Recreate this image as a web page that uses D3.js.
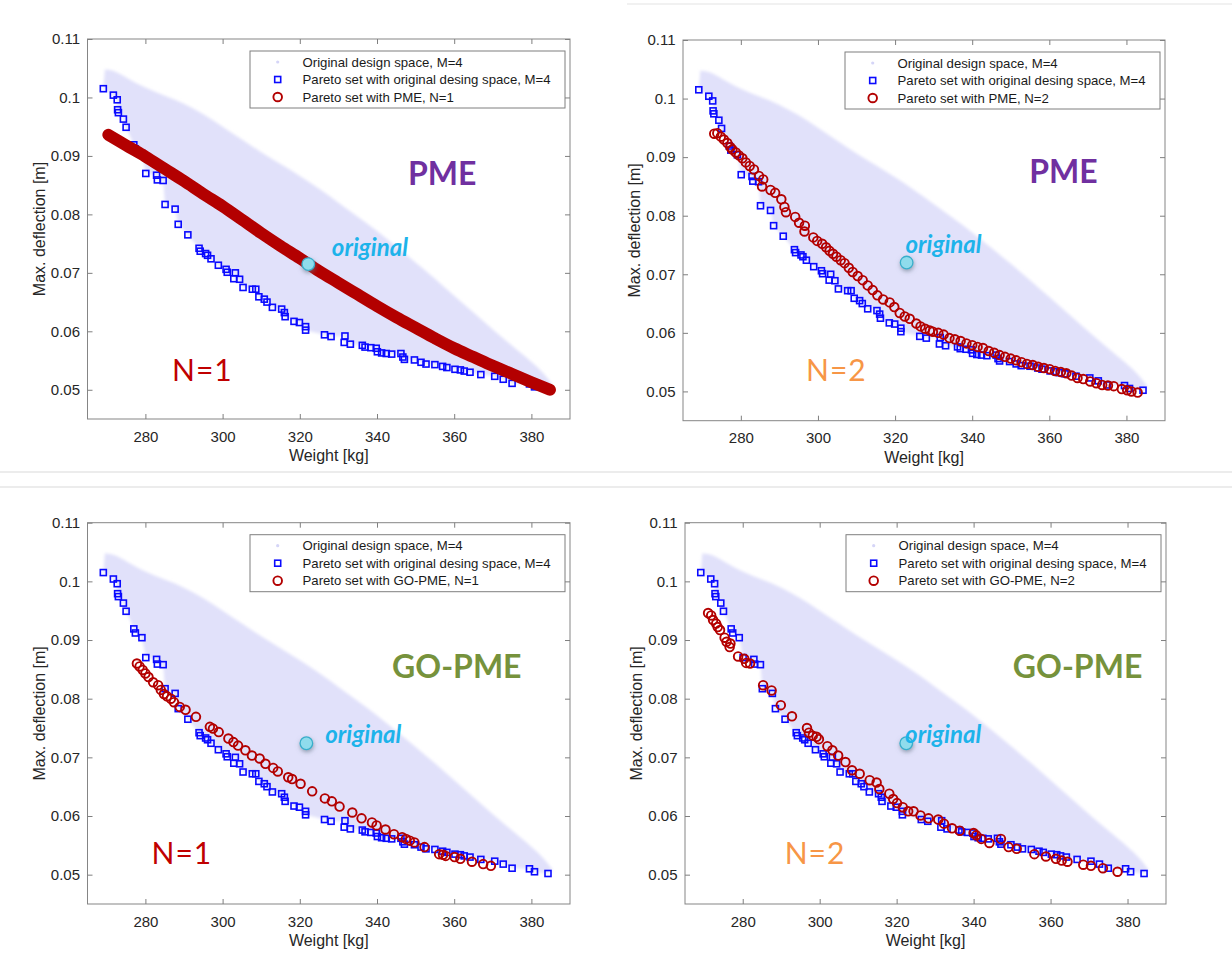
<!DOCTYPE html>
<html>
<head>
<meta charset="utf-8">
<title>Pareto sets: PME and GO-PME</title>
<script src="https://d3js.org/d3.v7.min.js"></script>
<style>
    body { margin: 0; background: #fff; }
    .axis text { font-family: "Liberation Sans", Arial, sans-serif; font-size: 15px; fill: #262626; }
    .axis line { stroke: #7f7f7f; }
    .axis path { display: none; }
    .axis-title { font-family: "Liberation Sans", Arial, sans-serif; font-size: 16px; fill: #262626; }
    .legend text { font-family: "Liberation Sans", Arial, sans-serif; font-size: 13.2px; fill: #1a1a1a; }
    .big { font-family: Lato, "Open Sans", sans-serif; }
</style>
</head>
<body>
<script>
    // ---- data ----
    var xTicks = [280, 300, 320, 340, 360, 380];
    var yTicks = [0.05, 0.06, 0.07, 0.08, 0.09, 0.1, 0.11];

    // upper edge of the original design space cloud (the lower edge is the Pareto set)
    var cloudUpper = [[269.5, 0.1048], [272, 0.1046], [275, 0.1034], [280, 0.1016], [285, 0.1003], [290, 0.0990],
        [295, 0.0972], [300, 0.0950], [305, 0.0928], [310, 0.0906], [315, 0.0886], [320, 0.0866], [325, 0.0844],
        [330, 0.0820], [335, 0.0796], [340, 0.0772], [345, 0.0745], [350, 0.0718], [355, 0.0690], [360, 0.0661],
        [365, 0.0632], [370, 0.0603], [375, 0.0575], [380, 0.0548], [383, 0.0530], [385.5, 0.0508]];

    // Pareto set with original design space, M=4
    var paretoOriginal = [[269.1, 0.1015], [271.7, 0.1004], [272.7, 0.0996], [272.8, 0.0979], [273.0, 0.0974],
        [274.3, 0.0963], [275.0, 0.0949], [277.0, 0.0919], [277.4, 0.0912], [279.1, 0.0904], [280.1, 0.0870],
        [282.9, 0.0867], [283.1, 0.0859], [284.6, 0.0858], [285.1, 0.0817], [287.7, 0.0809], [288.5, 0.0783],
        [291.0, 0.0765], [293.9, 0.0742], [294.2, 0.0737], [295.6, 0.0733], [296.1, 0.0730], [297.0, 0.0724],
        [298.9, 0.0713], [300.9, 0.0706], [301.2, 0.0701], [303.3, 0.0700], [302.9, 0.0690], [304.4, 0.0689],
        [305.3, 0.0675], [307.7, 0.0672], [308.6, 0.0672], [309.4, 0.0659], [310.8, 0.0655], [311.5, 0.0650],
        [312.9, 0.0641], [315.3, 0.0638], [316.0, 0.0632], [316.2, 0.0625], [318.5, 0.0617], [319.9, 0.0615],
        [321.5, 0.0608], [321.5, 0.0602], [326.4, 0.0594], [328.1, 0.0591], [331.7, 0.0592], [331.5, 0.0581],
        [333.1, 0.0578], [336.2, 0.0576], [336.9, 0.0573], [338.4, 0.0572], [339.8, 0.0571], [340.1, 0.0565],
        [341.2, 0.0563], [342.4, 0.0562], [343.8, 0.0561], [346.2, 0.0562], [346.7, 0.0556], [347.1, 0.0552],
        [349.7, 0.0551], [351.4, 0.0547], [352.7, 0.0544], [355.0, 0.0543], [357.0, 0.0540], [358.1, 0.0538],
        [360.2, 0.0535], [361.6, 0.0534], [362.6, 0.0532], [364.1, 0.0530], [366.9, 0.0526], [370.5, 0.0523],
        [372.7, 0.0518], [375.0, 0.0511], [379.5, 0.0510], [380.8, 0.0505], [384.3, 0.0502]];

    // Pareto set with PME, N=1 (dense band of markers)
    var pmeN1 = [[270.4, 0.0936], [275, 0.0918], [280, 0.0899], [285, 0.0878], [290, 0.0857], [295, 0.0835],
        [300, 0.0814], [305, 0.0791], [310, 0.0768], [315, 0.0746], [320, 0.0725], [325, 0.0703], [330, 0.0683],
        [335, 0.0663], [340, 0.0643], [345, 0.0624], [350, 0.0606], [355, 0.0588], [360, 0.0571], [365, 0.0556],
        [370, 0.0541], [375, 0.0527], [380, 0.0513], [384.8, 0.0500]];

    // Pareto set with PME, N=2
    var pmeN2 = [[273.1, 0.0940], [273.9, 0.0941], [274.8, 0.0935], [275.6, 0.0930], [276.5, 0.0924], [277.3, 0.0917],
        [277.8, 0.0913], [278.7, 0.0908], [279.5, 0.0903], [280.4, 0.0898], [281.3, 0.0891], [282.3, 0.0885],
        [283.4, 0.0879], [284.7, 0.0868], [285.8, 0.0862], [285.5, 0.0850], [287.7, 0.0844], [288.9, 0.0839],
        [290.5, 0.0828], [291.3, 0.0815], [291.7, 0.0806], [294.1, 0.0798], [295.1, 0.0788], [296.6, 0.0783],
        [296.5, 0.0773], [298.8, 0.0763], [299.8, 0.0757], [301.1, 0.0752], [302.1, 0.0746], [303.0, 0.0740],
        [303.9, 0.0735], [304.8, 0.0730], [305.9, 0.0724], [306.9, 0.0719], [308.0, 0.0711], [309.0, 0.0704],
        [310.3, 0.0697], [311.6, 0.0690], [312.9, 0.0681], [314.2, 0.0673], [315.4, 0.0664], [316.9, 0.0657],
        [318.6, 0.0652], [319.8, 0.0644], [321.2, 0.0634], [322.5, 0.0628], [323.8, 0.0624], [325.5, 0.0616],
        [326.6, 0.0611], [327.8, 0.0607], [329.0, 0.0604], [329.8, 0.0602], [331.2, 0.0600], [332.6, 0.0597],
        [334.1, 0.0591], [335.5, 0.0589], [337.0, 0.0586], [338.5, 0.0582], [340.0, 0.0579], [341.4, 0.0576],
        [342.8, 0.0574], [344.3, 0.0569], [345.7, 0.0566], [347.1, 0.0562], [348.5, 0.0559], [350.0, 0.0556],
        [351.4, 0.0553], [352.8, 0.0550], [354.2, 0.0547], [355.7, 0.0545], [357.1, 0.0542], [358.6, 0.0540],
        [360.1, 0.0538], [361.5, 0.0535], [363.0, 0.0533], [364.4, 0.0531], [365.8, 0.0527], [367.3, 0.0523],
        [368.8, 0.0521], [370.6, 0.0517], [372.2, 0.0514], [373.7, 0.0511], [375.2, 0.0510], [376.7, 0.0509],
        [378.8, 0.0504], [380.2, 0.0502], [381.3, 0.0500], [382.9, 0.0498]];

    // Pareto set with GO-PME, N=1
    var goPmeN1 = [[277.8, 0.0860], [278.5, 0.0855], [279.3, 0.0849], [280.0, 0.0843], [280.8, 0.0837], [282.0, 0.0828],
        [283.3, 0.0823], [284.0, 0.0815], [284.8, 0.0808], [285.6, 0.0804], [286.6, 0.0800], [287.4, 0.0794],
        [288.9, 0.0786], [290.4, 0.0781], [293.1, 0.0769], [296.7, 0.0752], [297.5, 0.0749], [299.0, 0.0743],
        [301.5, 0.0732], [302.8, 0.0726], [304.0, 0.0720], [305.9, 0.0712], [307.6, 0.0703], [309.6, 0.0698],
        [311.1, 0.0689], [313.1, 0.0682], [314.3, 0.0676], [317.0, 0.0666], [318.0, 0.0663], [320.2, 0.0655],
        [323.2, 0.0642], [326.5, 0.0630], [328.3, 0.0625], [330.3, 0.0616], [333.6, 0.0606], [336.0, 0.0596],
        [338.7, 0.0589], [339.9, 0.0584], [342.2, 0.0577], [344.4, 0.0569], [346.5, 0.0564], [347.5, 0.0561],
        [348.5, 0.0558], [349.7, 0.0555], [352.3, 0.0547], [356.1, 0.0535], [357.1, 0.0534], [357.8, 0.0532],
        [360.1, 0.0530], [361.6, 0.0527], [364.6, 0.0522], [367.5, 0.0518], [369.5, 0.0515]];

    // Pareto set with GO-PME, N=2
    var goPmeN2 = [[271.0, 0.0946], [271.8, 0.0942], [272.3, 0.0934], [273.1, 0.0928], [273.5, 0.0922], [274.1, 0.0917],
        [275.3, 0.0904], [275.8, 0.0897], [276.8, 0.0894], [276.6, 0.0888], [278.8, 0.0872], [280.4, 0.0868],
        [280.9, 0.0861], [281.9, 0.0860], [285.3, 0.0823], [287.5, 0.0814], [289.9, 0.0789], [292.8, 0.0770],
        [296.7, 0.0750], [297.2, 0.0742], [298.2, 0.0737], [299.2, 0.0735], [299.8, 0.0731], [302.0, 0.0719],
        [303.3, 0.0712], [304.8, 0.0703], [306.7, 0.0692], [308.4, 0.0678], [310.4, 0.0672], [313.0, 0.0661],
        [314.8, 0.0657], [315.5, 0.0646], [318.1, 0.0638], [319.1, 0.0629], [320.1, 0.0622], [321.6, 0.0615],
        [323.0, 0.0608], [324.4, 0.0608], [326.2, 0.0601], [328.3, 0.0596], [330.8, 0.0594], [332.3, 0.0587],
        [334.4, 0.0579], [336.4, 0.0575], [340.0, 0.0571], [340.7, 0.0567], [342.0, 0.0561], [344.1, 0.0554],
        [347.1, 0.0561], [349.1, 0.0547], [351.2, 0.0544], [355.8, 0.0535], [358.8, 0.0531], [361.4, 0.0527],
        [362.9, 0.0524], [364.4, 0.0522], [368.5, 0.0517], [370.5, 0.0515], [373.6, 0.0511], [377.4, 0.0505]];

    // the "original" design, one per panel
    var originalPoints = [[322.2, 0.0715], [323.0, 0.0720], [321.7, 0.0724], [322.5, 0.0724]];

    var methodLabels = ["PME", "PME", "GO-PME", "GO-PME"];
    var nLabels = ["N=1", "N=2", "N=1", "N=2"];
    var legendLabels = ["Original design space, M=4", "Pareto set with original desing space, M=4"];
    var legendThird = ["Pareto set with PME, N=1", "Pareto set with PME, N=2",
        "Pareto set with GO-PME, N=1", "Pareto set with GO-PME, N=2"];

    // ---- layout ----
    var W = 1232, H = 956;
    var cloudColor = "#e1e1fa", blue = "#0a0aff", red = "#b30000";
    var methodColors = ["#7030a0", "#7030a0", "#76923c", "#76923c"];
    var nColors = ["#c00000", "#f79646", "#c00000", "#f79646"];
    var series = [pmeN1, pmeN2, goPmeN1, goPmeN2];

    var panels = [
        { left: 87.5, top: 39, width: 482.5, height: 380, method: [348, 0.0851], n: [286.9, 0.0515], orig: [328.3, 0.0729] },
        { left: 683, top: 40, width: 482, height: 380.7, method: [354.8, 0.0856], n: [296.9, 0.0518], orig: [322.7, 0.0737] },
        { left: 87.5, top: 522.7, width: 482.5, height: 381.3, method: [343.9, 0.0836], n: [281.6, 0.0518], orig: [326.6, 0.0724] },
        { left: 685, top: 522.7, width: 481, height: 381.3, method: [350.2, 0.0836], n: [290.9, 0.0518], orig: [322.2, 0.0724] }
    ];

    var svg = d3.select("body").append("svg")
        .attr("width", W)
        .attr("height", H);

    var defs = svg.append("defs");
    defs.append("filter").attr("id", "soft")
        .append("feGaussianBlur").attr("stdDeviation", 1.8);
    var glow = defs.append("filter").attr("id", "shadow")
        .attr("x", "-100%").attr("y", "-100%").attr("width", "300%").attr("height", "300%");
    glow.append("feDropShadow").attr("dx", 0.5).attr("dy", 2).attr("stdDeviation", 2.2)
        .attr("flood-color", "#5f6f80").attr("flood-opacity", 0.6);

    // faint slide separators
    svg.append("line").attr("x1", 0).attr("x2", W).attr("y1", 472).attr("y2", 472)
        .attr("stroke", "#d9d9d9");
    svg.append("line").attr("x1", 0).attr("x2", W).attr("y1", 487).attr("y2", 487)
        .attr("stroke", "#d9d9d9");
    svg.append("line").attr("x1", 627).attr("x2", W).attr("y1", 4).attr("y2", 4)
        .attr("stroke", "#e3e3e3");

    panels.forEach(function (p, i) {
        var x = d3.scaleLinear().domain([265, 390]).range([0, p.width]);
        var y = d3.scaleLinear().domain([0.045, 0.11]).range([p.height, 0]);

        var g = svg.append("g")
            .attr("transform", "translate(" + p.left + "," + p.top + ")");

        defs.append("clipPath").attr("id", "clip" + i)
            .append("rect").attr("width", p.width).attr("height", p.height);

        var plot = g.append("g").attr("clip-path", "url(#clip" + i + ")");

        // design space cloud: smooth upper edge, Pareto set as lower edge
        var upper = d3.line().x(d => x(d[0])).y(d => y(d[1])).curve(d3.curveBasis)(cloudUpper);
        var lower = d3.line().x(d => x(d[0])).y(d => y(d[1]))(paretoOriginal.slice().reverse());
        plot.append("path")
            .attr("d", upper + "L" + lower.slice(1) + "Z")
            .attr("fill", cloudColor)
            .attr("filter", "url(#soft)");

        // Pareto set, original design space
        plot.selectAll(".sq")
            .data(paretoOriginal)
            .enter().append("rect")
            .attr("class", "sq")
            .attr("x", d => x(d[0]) - 3)
            .attr("y", d => y(d[1]) - 3)
            .attr("width", 6)
            .attr("height", 6)
            .attr("fill", "none")
            .attr("stroke", blue)
            .attr("stroke-width", 1.6);

        // Pareto set with PME / GO-PME
        var pts = series[i];
        if (i === 0) {
            plot.append("path")
                .datum(pts)
                .attr("d", d3.line().x(d => x(d[0])).y(d => y(d[1])).curve(d3.curveCatmullRom))
                .attr("fill", "none")
                .attr("stroke", red)
                .attr("stroke-width", 12)
                .attr("stroke-linecap", "round");
        }
        plot.selectAll(".ring")
            .data(pts)
            .enter().append("circle")
            .attr("class", "ring")
            .attr("cx", d => x(d[0]))
            .attr("cy", d => y(d[1]))
            .attr("r", 4.3)
            .attr("fill", "none")
            .attr("stroke", red)
            .attr("stroke-width", 1.9);

        // original design
        var o = originalPoints[i];
        plot.append("circle")
            .attr("cx", x(o[0]))
            .attr("cy", y(o[1]))
            .attr("r", 6.3)
            .attr("fill", "#8fdcec")
            .attr("stroke", "#38aecb")
            .attr("stroke-width", 1.3)
            .attr("filter", "url(#shadow)");

        // axes, MATLAB style: box with inward ticks
        g.append("rect")
            .attr("width", p.width).attr("height", p.height)
            .attr("fill", "none").attr("stroke", "#858585").attr("stroke-width", 1);

        g.append("g").attr("class", "axis")
            .attr("transform", "translate(0," + p.height + ")")
            .call(d3.axisBottom(x).tickValues(xTicks).tickSizeInner(-5).tickSizeOuter(0).tickPadding(12));
        g.append("g").attr("class", "axis")
            .call(d3.axisTop(x).tickValues(xTicks).tickSizeInner(-5).tickSizeOuter(0).tickFormat(""));
        g.append("g").attr("class", "axis")
            .call(d3.axisLeft(y).tickValues(yTicks).tickSizeInner(-5).tickSizeOuter(0).tickPadding(7.5)
                .tickFormat(d => String(d)));
        g.append("g").attr("class", "axis")
            .attr("transform", "translate(" + p.width + ",0)")
            .call(d3.axisRight(y).tickValues(yTicks).tickSizeInner(-5).tickSizeOuter(0).tickFormat(""));

        g.append("text").attr("class", "axis-title")
            .attr("x", p.width / 2).attr("y", p.height + 42)
            .attr("text-anchor", "middle")
            .text("Weight [kg]");
        g.append("text").attr("class", "axis-title")
            .attr("transform", "translate(-43," + (p.height / 2) + ") rotate(-90)")
            .attr("text-anchor", "middle")
            .text("Max. deflection [m]");

        // legend
        var lg = g.append("g").attr("class", "legend")
            .attr("transform", "translate(" + (p.width - 320) + ",12)");
        lg.append("rect").attr("width", 315).attr("height", 57)
            .attr("fill", "#fff").attr("stroke", "#7f7f7f").attr("stroke-width", 1);
        var rows = legendLabels.concat([legendThird[i]]);
        rows.forEach(function (t, k) {
            var cy = 11 + k * 17.5;
            lg.append("text").attr("x", 52.5).attr("y", cy + 4.6).text(t);
            if (k === 0) {
                lg.append("circle").attr("cx", 27.7).attr("cy", cy).attr("r", 1.6).attr("fill", "#d5d5f7");
            } else if (k === 1) {
                lg.append("rect").attr("x", 24.7).attr("y", cy - 3).attr("width", 6).attr("height", 6)
                    .attr("fill", "none").attr("stroke", blue).attr("stroke-width", 1.6);
            } else {
                lg.append("circle").attr("cx", 27.7).attr("cy", cy).attr("r", 4.3)
                    .attr("fill", "none").attr("stroke", red).attr("stroke-width", 1.9);
            }
        });

        // slide annotations
        g.append("text").attr("class", "big")
            .attr("x", x(p.method[0])).attr("y", y(p.method[1]))
            .attr("font-size", 32).attr("font-weight", 700)
            .attr("fill", methodColors[i])
            .text(methodLabels[i]);
        g.append("text").attr("class", "big")
            .attr("x", x(p.n[0])).attr("y", y(p.n[1]))
            .attr("font-size", 30).attr("letter-spacing", 1)
            .attr("fill", nColors[i])
            .text(nLabels[i]);
        g.append("text").attr("class", "big")
            .attr("x", x(p.orig[0])).attr("y", y(p.orig[1]))
            .attr("font-size", 24).attr("font-weight", 700).attr("font-style", "italic")
            .attr("fill", "#1db3ea")
            .text("original");
    });
</script>
</body>
</html>
